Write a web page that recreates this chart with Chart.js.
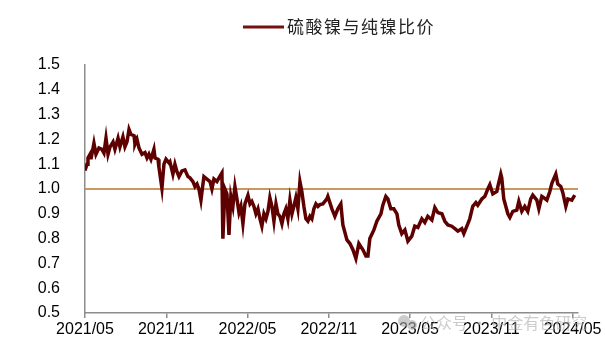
<!DOCTYPE html>
<html>
<head>
<meta charset="utf-8">
<script src="https://cdn.jsdelivr.net/npm/chart.js@4"></script>
<style>
  body { margin: 0; background: #fff; }
  #wrap { width: 605px; height: 347px; position: relative; }
</style>
</head>
<body>
<div id="wrap"><canvas id="ratioChart"></canvas></div>
<script>
// months counted from 2021/05
const months = [
  0.00, 0.15, 0.22, 0.37, 0.44, 0.66, 0.81, 1.03, 1.25, 1.40, 1.55, 1.70, 1.85, 2.07, 2.21, 2.44,
  2.58, 2.80, 2.95, 3.10, 3.25, 3.39, 3.62, 3.69, 3.84, 3.99, 4.21, 4.43, 4.58, 4.72, 4.87, 5.09,
  5.17, 5.39, 5.46, 5.68, 5.83, 5.98, 6.20, 6.27, 6.49, 6.64, 6.79, 6.94, 7.16, 7.38, 7.60, 7.75,
  7.97, 8.12, 8.27, 8.41, 8.56, 8.78, 9.00, 9.23, 9.37, 9.52, 9.74, 9.89, 10.11, 10.18, 10.33, 10.48,
  10.63, 10.77, 10.92, 11.07, 11.22, 11.37, 11.51, 11.66, 11.81, 12.03, 12.18, 12.32, 12.47, 12.62, 12.77, 12.92,
  13.06, 13.21, 13.36, 13.51, 13.65, 13.80, 13.95, 14.10, 14.24, 14.39, 14.54, 14.69, 14.83, 14.98, 15.13, 15.28,
  15.42, 15.57, 15.72, 15.87, 16.01, 16.16, 16.31, 16.46, 16.61, 16.75, 16.90, 17.05, 17.20, 17.34, 17.56, 17.86,
  17.93, 18.23, 18.45, 18.67, 18.89, 19.04, 19.34, 19.56, 19.78, 20.00, 20.22, 20.52, 20.74, 20.89, 21.03, 21.33,
  21.55, 21.85, 21.99, 22.21, 22.36, 22.58, 22.80, 23.03, 23.17, 23.39, 23.62, 23.84, 24.13, 24.35, 24.58, 24.87,
  25.09, 25.31, 25.61, 25.83, 26.05, 26.35, 26.57, 26.79, 27.08, 27.31, 27.53, 27.82, 27.97, 28.27, 28.41, 28.63,
  28.86, 29.00, 29.30, 29.52, 29.74, 29.89, 30.11, 30.41, 30.48, 30.70, 30.77, 30.92, 31.22, 31.37, 31.59, 31.88,
  32.03, 32.25, 32.47, 32.69, 32.91, 33.06, 33.36, 33.51, 33.73, 33.87, 34.10, 34.32, 34.47, 34.76, 34.91, 35.13,
  35.28, 35.50, 35.65, 35.94, 36.16
];

// nickel sulphate / refined nickel price ratio
const ratio = [
  1.075, 1.10, 1.125, 1.14, 1.12, 1.185, 1.14, 1.165, 1.16, 1.145, 1.205, 1.14, 1.17, 1.19, 1.16, 1.205,
  1.17, 1.21, 1.17, 1.19, 1.24, 1.22, 1.215, 1.18, 1.20, 1.165, 1.14, 1.147, 1.125, 1.14, 1.12, 1.16,
  1.125, 1.12, 1.087, 1.003, 1.10, 1.12, 1.105, 1.11, 1.06, 1.10, 1.07, 1.05, 1.073, 1.077, 1.05, 1.045,
  1.03, 1.01, 1.02, 1.00, 0.955, 1.05, 1.04, 1.03, 1.00, 1.04, 1.03, 1.045, 1.065, 0.80, 1.00, 0.98,
  0.815, 0.97, 0.93, 1.01, 0.96, 0.905, 0.93, 0.86, 0.94, 0.975, 0.94, 0.95, 0.93, 0.90, 0.92, 0.88,
  0.85, 0.90, 0.88, 0.91, 0.965, 0.93, 0.87, 0.94, 0.90, 0.89, 0.86, 0.90, 0.92, 0.88, 0.955, 0.90,
  0.93, 0.965, 0.92, 1.03, 0.99, 0.93, 0.88, 0.87, 0.89, 0.88, 0.92, 0.94, 0.93, 0.937, 0.94, 0.96,
  0.97, 0.92, 0.89, 0.92, 0.94, 0.855, 0.795, 0.78, 0.755, 0.72, 0.78, 0.755, 0.73, 0.73, 0.80, 0.835,
  0.87, 0.90, 0.935, 0.97, 0.96, 0.92, 0.92, 0.90, 0.855, 0.82, 0.835, 0.79, 0.81, 0.85, 0.845, 0.88,
  0.865, 0.89, 0.875, 0.925, 0.905, 0.90, 0.87, 0.855, 0.85, 0.84, 0.83, 0.84, 0.82, 0.86, 0.88, 0.93,
  0.945, 0.935, 0.96, 0.97, 1.00, 1.017, 0.98, 0.99, 1.01, 1.06, 1.045, 0.96, 0.90, 0.885, 0.91, 0.915,
  0.95, 0.91, 0.93, 0.91, 0.96, 0.975, 0.955, 0.92, 0.97, 0.965, 0.955, 0.99, 1.023, 1.06, 1.02, 1.01,
  0.985, 0.93, 0.96, 0.955, 0.975
];

const parityLevel = 1.0;
const xMax = 36.4;
const seriesName = '硫酸镍与纯镍比价';
const watermark = '公众号 · 中金有色研究';

const lineColor = '#5e0000';
const parityColor = '#c9985e';
const axisColor = '#8c8c8c';

function monthLabel(v) {
    const idx = 4 + Math.round(v);   // May = index 4
    const y = 2021 + Math.floor(idx / 12);
    const m = (idx % 12) + 1;
    return y + '/' + String(m).padStart(2, '0');
}

// legend + watermark drawn on top of the canvas
const overlayPlugin = {
    id: 'overlay',
    afterDraw(chart) {
        const ctx = chart.ctx;
        ctx.save();
        // legend
        ctx.strokeStyle = '#741010';
        ctx.lineWidth = 3;
        ctx.beginPath();
        ctx.moveTo(243, 27);
        ctx.lineTo(284, 27);
        ctx.stroke();
        ctx.fillStyle = '#222';
        ctx.font = '17px "Noto Sans CJK SC"';
        ctx.letterSpacing = '1.5px';
        ctx.textBaseline = 'middle';
        ctx.textAlign = 'left';
        ctx.fillText(seriesName, 287, 27);

        // watermark
        ctx.letterSpacing = '0px';
        ctx.fillStyle = 'rgba(170,170,170,0.6)';
        ctx.beginPath();
        ctx.arc(404, 321, 6, 0, Math.PI * 2);
        ctx.arc(412, 325, 5, 0, Math.PI * 2);
        ctx.fill();
        ctx.font = '16px "Noto Sans CJK SC"';
        ctx.fillText(watermark, 420, 323);
        ctx.restore();
    }
};

const ctxRatio = document.getElementById('ratioChart').getContext('2d');
const ratioChart = new Chart(ctxRatio, {
    type: 'line',
    data: {
        datasets: [{
            label: seriesName,
            data: months.map((m, i) => ({ x: m, y: ratio[i] })),
            borderColor: lineColor,
            borderWidth: 3.5,
            pointRadius: 0,
            tension: 0
        }, {
            label: 'parity',
            data: [{ x: 0, y: parityLevel }, { x: xMax, y: parityLevel }],
            borderColor: parityColor,
            borderWidth: 2,
            pointRadius: 0,
            order: 1
        }]
    },
    options: {
        responsive: true,
        maintainAspectRatio: false,
        animation: false,
        layout: { padding: { top: 65, right: 27, left: 0, bottom: 0 } },
        plugins: {
            legend: { display: false },
            tooltip: { enabled: false }
        },
        scales: {
            x: {
                type: 'linear',
                min: 0,
                max: xMax,
                afterBuildTicks: function (scale) {
                    scale.ticks = [0, 6, 12, 18, 24, 30, 36].map(v => ({ value: v }));
                },
                ticks: {
                    callback: function (v) { return monthLabel(v); },
                    color: '#000',
                    font: { family: '"Liberation Sans", Arial', size: 16 },
                    padding: 2,
                    maxRotation: 0,
                    autoSkip: false
                },
                grid: {
                    drawOnChartArea: false,
                    drawTicks: true,
                    tickLength: 5,
                    color: axisColor,
                    lineWidth: 1.5
                },
                border: { color: axisColor, width: 1.5 },
                afterFit: function (scale) {
                    scale.height = 34;
                    scale.paddingLeft = 0;
                    scale.paddingRight = 0;
                }
            },
            y: {
                min: 0.5,
                max: 1.5,
                ticks: {
                    stepSize: 0.1,
                    callback: function (v) { return v.toFixed(1); },
                    color: '#000',
                    font: { family: '"Liberation Sans", Arial', size: 16 },
                    padding: 17
                },
                grid: { display: false },
                border: { color: axisColor, width: 1.5 },
                afterFit: function (scale) {
                    scale.width = 85;
                    scale.paddingTop = 0;
                    scale.paddingBottom = 0;
                }
            }
        }
    },
    plugins: [overlayPlugin]
});
</script>
</body>
</html>
